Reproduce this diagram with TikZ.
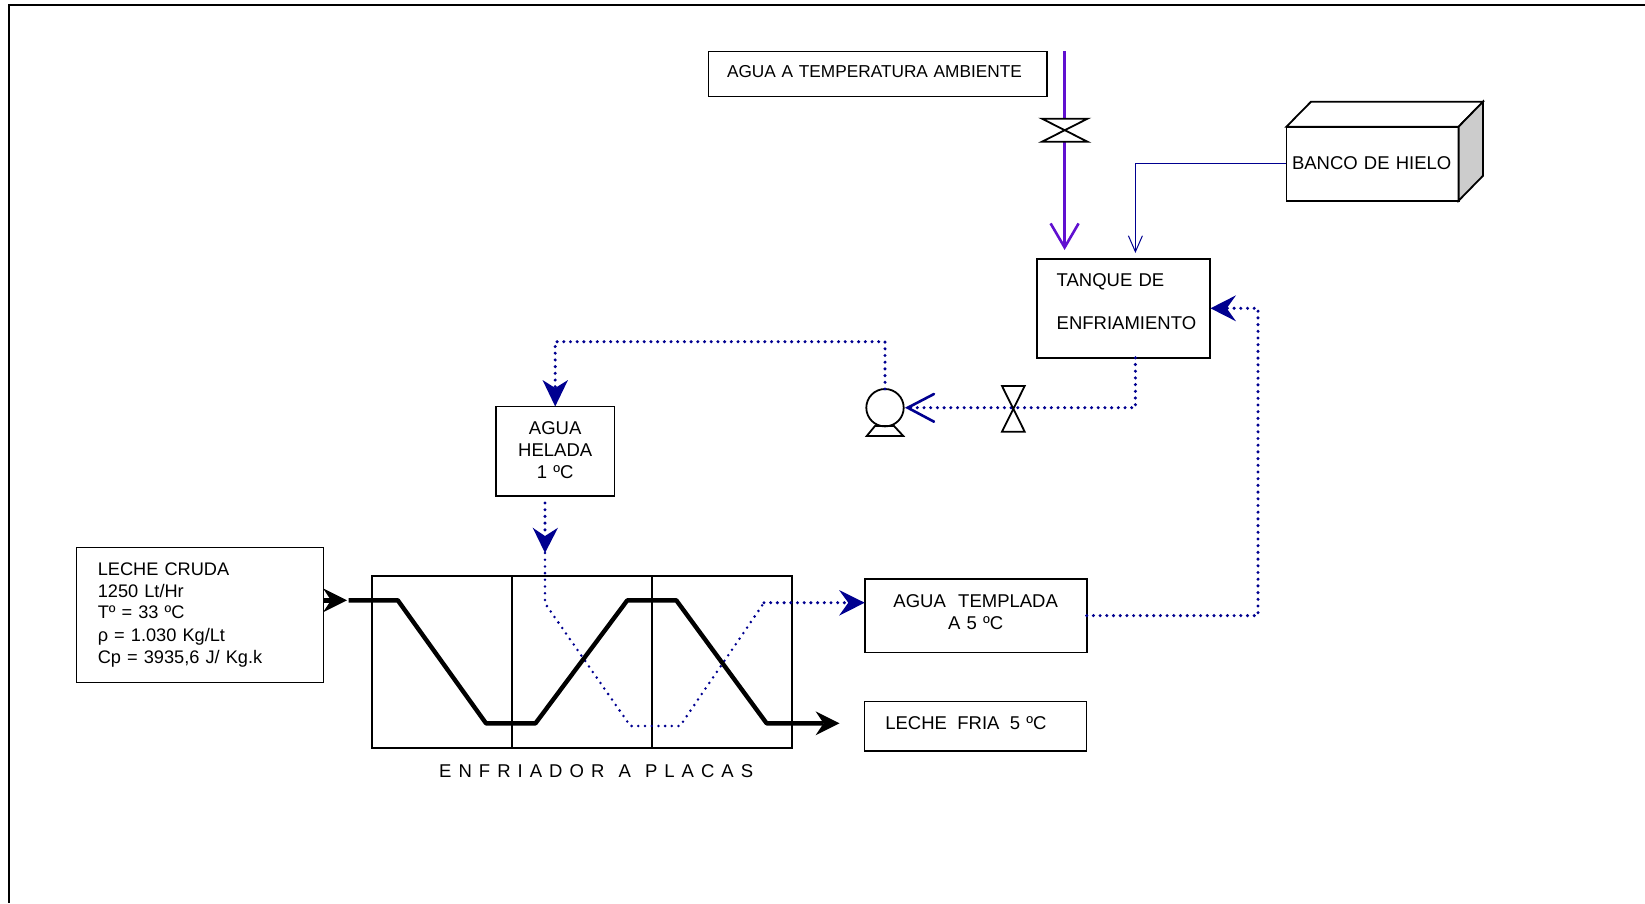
\documentclass[tikz,border=0pt]{standalone}
\usepackage{fontspec}
\setmainfont{Liberation Sans}
\usetikzlibrary{arrows.meta}
\definecolor{navyflow}{HTML}{000090}
\definecolor{purpleflow}{HTML}{6010D0}
\newcommand{\pad}[1]{\hspace*{#1pt}}
\tikzset{
  x=1pt,y=-1pt,
  box/.style={draw=black,line width=1.8pt,fill=white,inner sep=0pt,outer sep=0pt,
    font=\fontsize{18.5}{21.7}\selectfont},
  thinbox/.style={box,line width=1.2pt},
  valve/.style={draw=black,line width=1.8pt,fill=white,line join=miter},
  dotline/.style={draw=navyflow,line width=3.4pt,line cap=round,dash pattern=on 0pt off 6.7pt},
  dotthin/.style={dotline,line width=2.8pt},
  milk/.style={draw=black,line width=4.4pt,line join=round},
  tipblack/.style={-{Stealth[length=24pt,width=24pt,inset=8pt,line width=0pt]}},
}
\begin{document}
\begin{tikzpicture}
\useasboundingbox (0,0) rectangle (1645,903);
% frame
\coordinate (frameR) at (1645,4.5);
\coordinate (frameC) at (9,4.5);
\coordinate (frameB) at (9,903);
\draw[black,line width=2pt,line join=miter] (frameR) -- (frameC) -- (frameB);

% boxes
\node[thinbox,align=left,text width=338.5pt,minimum height=45pt,text height=26pt,text depth=19pt,
  font=\fontsize{17.25}{21}\selectfont] (ambiente) at (877.75,73.8) {\pad{18.5}AGUA A TEMPERATURA AMBIENTE};

\node[box,align=left,text width=172.2pt,minimum height=74pt,text height=43pt,text depth=31pt] (banco) at (1372.5,163.7) {\pad{5.6}BANCO DE HIELO};
\filldraw[fill=white,draw=black,line width=1.8pt,line join=miter] (banco.north west) -- (1311,101.7) -- (1483,101.7) -- (banco.north east) -- cycle;
\filldraw[fill=black!20,draw=black,line width=1.8pt,line join=miter] (banco.north east) -- (1483,101.7) -- (1483,175.7) -- (banco.south east) -- cycle;

\node[box,align=left,text width=173.3pt,minimum height=99pt,text height=28pt,text depth=71pt] (tanque) at (1123.35,308.3) {\pad{20}TANQUE DE\\[21.2pt]\pad{20}ENFRIAMIENTO};

\node[box,align=center,text width=118.4pt,minimum height=89.3pt,text height=28.5pt,text depth=60.8pt] (helada) at (555.2,451.1) {AGUA\\HELADA\\1 ºC};

\node[thinbox,align=left,text width=247pt,minimum height=135pt,text height=27.6pt,text depth=107.4pt,
  font=\fontsize{18.2}{21}\selectfont] (cruda) at (200.3,615.2) {\pad{21}LECHE CRUDA\\[1.4pt]\pad{21}1250 Lt/Hr\\\pad{21}Tº = 33 ºC\\[2pt]\pad{21}ρ = 1.030 Kg/Lt\\[0.6pt]\pad{21}Cp = 3935,6 J/ Kg.k};

\node[box,align=center,text width=222pt,minimum height=73.7pt,text height=28.7pt,text depth=45pt] (templada) at (975.7,615.6) {AGUA\ \ TEMPLADA\\A 5 ºC};

\node[box,line width=1.4pt,align=left,text width=222pt,minimum height=49.4pt,text height=27.7pt,text depth=21.7pt] (fria) at (975.7,726.4) {\pad{20.6}LECHE\hspace{10.4pt}FRIA\hspace{10.4pt}5 ºC};

\node[box,minimum width=419.4pt,minimum height=172pt] (enfriador) at (581.9,662.1) {};
\coordinate (divAtop) at (512,576.1);
\coordinate (divAbot) at (512,748.1);
\coordinate (divBtop) at (651.8,576.1);
\coordinate (divBbot) at (651.8,748.1);
\draw[black,line width=1.4pt] (divAtop) -- (divAbot);
\draw[black,line width=1.4pt] (divBtop) -- (divBbot);

\node[inner sep=0pt,anchor=base west,font=\fontsize{18.5}{22}\selectfont] (caption) at (439,777.6) {\addfontfeature{LetterSpace=38}ENFRIADOR\hspace{2pt} A\hspace{2pt} PLACAS};

% purple supply and valve
\coordinate (purpleTop) at (1064.6,51);
\coordinate (valveA) at (1064.6,130.2);
\coordinate (purpleTip) at (1064.6,250);
\draw[purpleflow,line width=2.6pt,-{Straight Barb[length=24pt,width=28pt,line width=2.6pt]}] (purpleTop) -- (valveA) -- (purpleTip);
\filldraw[valve] (1042,118.7) -- (1087.5,118.7) -- (1042,141.7) -- (1087.5,141.7) -- cycle;

% ice bank line
\coordinate (iceTip) at (1135.4,253);
\draw[navyflow,line width=1pt,-{Straight Barb[length=16pt,width=14pt,line width=1pt]}] (banco.west) -| (iceTip);

% tank outlet to pump
\coordinate (tanqueOut) at (1135.4,357.8);
\coordinate (valveB) at (1013.3,407.7);
\coordinate (pumpIn) at (907.7,407.7);
\draw[dotline] (tanqueOut) |- (valveB) -- (pumpIn);
\draw[navyflow,line width=2.6pt,line cap=round] (934,394) -- (pumpIn) -- (934,421.7);
\filldraw[valve] (1002,386) -- (1024.7,386) -- (1002,431.7) -- (1024.7,431.7) -- cycle;

% pump
\node[circle,draw=black,line width=1.8pt,fill=white,minimum size=37.4pt,inner sep=0pt,outer sep=0pt] (pump) at (885,407.7) {};
\draw[black,line width=1.8pt,line join=miter] (875,426) -- (894,426) -- (903.3,436) -- (866.7,436) -- cycle;

% pump to chilled water
\coordinate (pumpCorner) at (885,341.7);
\coordinate (heladaCorner) at (555.2,341.7);
\draw[dotline] (pump.north) -- (pumpCorner) -- (heladaCorner) -- (555.2,388);
\fill[navyflow] (helada.north) -- (542.5,380) -- (555.2,388) -- (568,380) -- cycle;

% chilled water into cooler
\coordinate (heladaOut) at (545,503);
\coordinate (plateTip) at (545,553);
\draw[dotline] (heladaOut) -- (545,536);
\fill[navyflow] (plateTip) -- (532.7,527.7) -- (545,536) -- (558,527.7) -- cycle;
\coordinate (wA) at (545,603.3);
\coordinate (wB) at (630.4,726);
\coordinate (wC) at (680,726);
\coordinate (wD) at (764,602.7);
\coordinate (wE) at (848.3,602.7);
\draw[dotthin] (plateTip) -- (wA) -- (wB) -- (wC) -- (wD);
\draw[dotline] (wD) -- (wE);
\fill[navyflow] (864.7,602.7) -- (839,590) -- (848.3,602.7) -- (839,615.7) -- cycle;

% warm water return
\coordinate (loopCorner) at (1258,308.3);
\coordinate (loopEnd) at (1226.7,308.3);
\draw[dotline] (templada.east) -| (loopCorner) -- (loopEnd);
\fill[navyflow] (1210.5,308.3) -- (1236,295.3) -- (1226.7,308.3) -- (1236,321.3) -- cycle;

% milk
\coordinate (milkTail) at (323.8,600.3);
\coordinate (milkHead) at (347,600.3);
\draw[black,line width=4.4pt,tipblack] (milkTail) -- (milkHead);
\coordinate (mA) at (348.5,600.3);
\coordinate (mB) at (397.8,600.3);
\coordinate (mC) at (486,723.3);
\coordinate (mD) at (535.5,723.3);
\coordinate (mE) at (627.3,600.3);
\coordinate (mF) at (676.3,600.3);
\coordinate (mG) at (766.6,723.3);
\coordinate (mH) at (839.6,723.3);
\draw[milk,tipblack] (mA) -- (mB) -- (mC) -- (mD) -- (mE) -- (mF) -- (mG) -- (mH);
\end{tikzpicture}
\end{document}
